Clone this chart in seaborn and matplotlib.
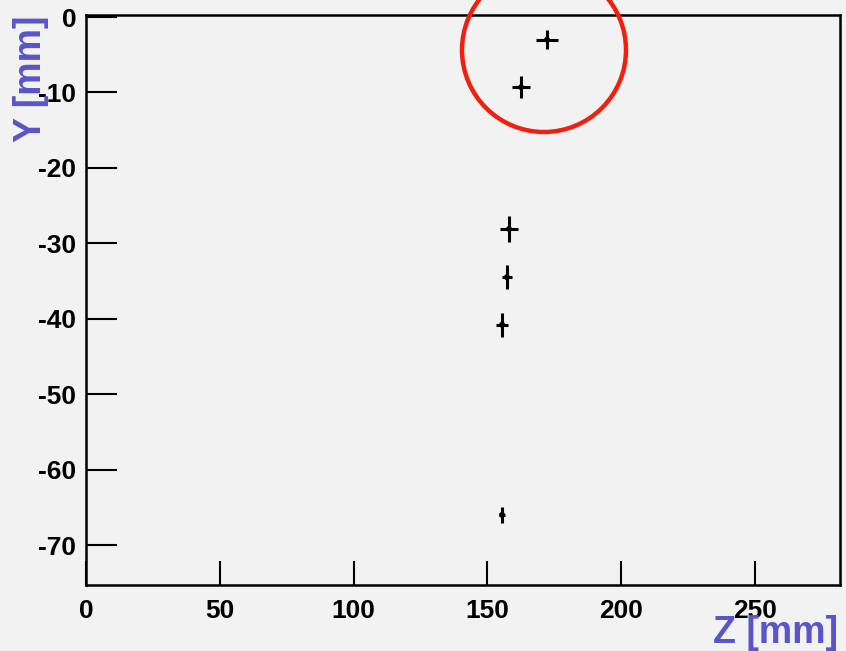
import matplotlib
matplotlib.use("Agg")
import matplotlib.pyplot as plt
from matplotlib.patches import Ellipse
import seaborn as sns
import pandas as pd

z = [172.3, 162.6, 158.1, 157.3, 155.5, 155.5]
y = [-3.0, -9.3, -28.1, -34.5, -40.8, -66.0]
z_err = [4.1, 3.4, 3.5, 1.8, 2.4, 1.1]
y_err = [1.3, 1.5, 1.7, 1.6, 1.6, 1.1]
x_ticks = [0, 50, 100, 150, 200, 250]
y_ticks = [0, -10, -20, -30, -40, -50, -60, -70]

df = pd.DataFrame({"Z": z, "Y": y})

sns.set_style("white")
plt.rcParams['font.family'] = ['Liberation Sans', 'DejaVu Sans']

fig = plt.figure(figsize=(8.46, 6.51), dpi=100)
fig.patch.set_facecolor("#f2f2f2")
ax = fig.add_axes([0.1017, 0.1014, 0.8912, 0.8756])
ax.set_facecolor("#f2f2f2")

ax.errorbar(z, y, xerr=z_err, yerr=y_err, fmt="none", ecolor="black",
            elinewidth=2.2, capsize=0)
sns.scatterplot(data=df, x="Z", y="Y", ax=ax, color="black", s=18,
                marker="o", edgecolor="none", zorder=3)

ax.set_xlim(0, 281.8)
ax.set_ylim(-75.3, 0.27)
ax.set_xticks(x_ticks)
ax.set_yticks(y_ticks)
ax.set_xticklabels([str(t) for t in x_ticks], fontsize=19, fontweight="bold",
                   color="black")
ax.set_yticklabels([str(t) for t in y_ticks], fontsize=19, fontweight="bold",
                   color="black")
ax.tick_params(axis="x", direction="in", length=17, width=1.5, pad=10,
               bottom=True, top=False, color="black")
ax.tick_params(axis="y", direction="in", length=22, width=1.5, pad=7,
               left=True, right=False, color="black")
for sp in ax.spines.values():
    sp.set_color("black")
    sp.set_linewidth(1.8)

ax.set_xlabel("")
ax.set_ylabel("")
fig.text(0.991, 1 - 643 / 651, "Z [mm]", ha="right", va="baseline",
         fontsize=27, fontweight="bold", color="#5a55c8")
fig.text(31 / 846, 1 - 16 / 651, "Y [mm]", ha="center", va="top",
         rotation=90, fontsize=27, fontweight="bold", color="#5a55c8")

ell = Ellipse((544 / 846, 1 - 50 / 651), width=164 / 846, height=164 / 651,
              transform=fig.transFigure, fill=False, edgecolor="#f02010",
              linewidth=3.2, clip_on=False, zorder=10)
fig.patches.append(ell)

fig.savefig("out.png", dpi=100, facecolor=fig.get_facecolor())
